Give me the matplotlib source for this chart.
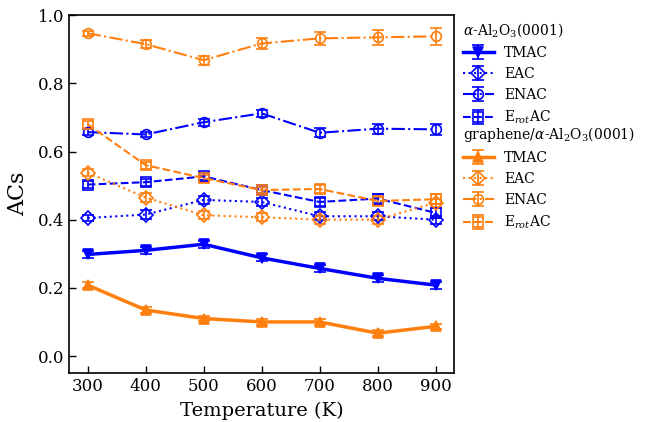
import matplotlib
matplotlib.use('Agg')
import matplotlib.pyplot as plt

plt.rcParams['font.family'] = 'DejaVu Serif'
plt.rcParams['mathtext.fontset'] = 'dejavuserif'

# temperaturas
T = [300, 400, 500, 600, 700, 800, 900]

# alpha-Al2O3(0001)
al_tmac = [0.298, 0.310, 0.328, 0.288, 0.257, 0.228, 0.208]
al_tmac_err = [0.010, 0.010, 0.010, 0.010, 0.010, 0.010, 0.010]
al_eac = [0.405, 0.415, 0.458, 0.452, 0.410, 0.410, 0.400]
al_eac_err = [0.010, 0.012, 0.012, 0.012, 0.012, 0.012, 0.012]
al_enac = [0.657, 0.650, 0.686, 0.712, 0.655, 0.667, 0.665]
al_enac_err = [0.010, 0.008, 0.010, 0.010, 0.013, 0.015, 0.017]
al_erot = [0.503, 0.510, 0.527, 0.487, 0.452, 0.462, 0.420]
al_erot_err = [0.010, 0.010, 0.010, 0.010, 0.012, 0.012, 0.015]

# graphene/alpha-Al2O3(0001)
gr_tmac = [0.208, 0.135, 0.110, 0.100, 0.100, 0.067, 0.087]
gr_tmac_err = [0.008, 0.008, 0.008, 0.008, 0.008, 0.008, 0.008]
gr_eac = [0.538, 0.465, 0.413, 0.407, 0.400, 0.400, 0.450]
gr_eac_err = [0.010, 0.012, 0.012, 0.012, 0.012, 0.012, 0.012]
gr_enac = [0.947, 0.915, 0.868, 0.917, 0.932, 0.935, 0.938]
gr_enac_err = [0.008, 0.012, 0.013, 0.016, 0.018, 0.022, 0.025]
gr_erot = [0.680, 0.560, 0.522, 0.487, 0.490, 0.455, 0.460]
gr_erot_err = [0.010, 0.010, 0.010, 0.010, 0.012, 0.012, 0.015]

labels = ['TMAC', 'EAC', 'ENAC', r'E$_{rot}$AC']

fig = plt.figure(figsize=(6.46, 4.22), dpi=100)
ax = fig.add_axes([0.107, 0.116, 0.596, 0.848])

def serie(y, err, color, ls, mk, lw, filled, label):
    return ax.errorbar(T, y, yerr=err, color=color, ls=ls, lw=lw, marker=mk,
                       ms=7, mfc=color if filled else 'none', mew=1.2,
                       capsize=4, elinewidth=1.2, capthick=1.2, label=label)

blue = '#0000ff'
orange = '#ff7f0e'

h1 = [serie(al_tmac, al_tmac_err, blue, '-', 'v', 2.5, True, labels[0]),
      serie(al_eac, al_eac_err, blue, ':', 'D', 1.5, False, labels[1]),
      serie(al_enac, al_enac_err, blue, '-.', 'o', 1.5, False, labels[2]),
      serie(al_erot, al_erot_err, blue, '--', 's', 1.5, False, labels[3])]
h2 = [serie(gr_tmac, gr_tmac_err, orange, '-', '^', 2.5, True, labels[0]),
      serie(gr_eac, gr_eac_err, orange, ':', 'D', 1.5, False, labels[1]),
      serie(gr_enac, gr_enac_err, orange, '-.', 'o', 1.5, False, labels[2]),
      serie(gr_erot, gr_erot_err, orange, '--', 's', 1.5, False, labels[3])]

ax.set_xlim(268, 932)
ax.set_ylim(-0.05, 1.0)
ax.set_xticks(T)
ax.set_yticks([0.0, 0.2, 0.4, 0.6, 0.8, 1.0])
ax.tick_params(labelsize=12, direction='in', length=5, width=1)
ax.set_xlabel('Temperature (K)', fontsize=14, labelpad=5)
ax.set_ylabel('ACs', fontsize=16, labelpad=6)
for s in ax.spines.values():
    s.set_linewidth(1.2)

opts = dict(loc='upper left', bbox_transform=fig.transFigure, frameon=False,
            fontsize=10, title_fontsize=10, alignment='left', labelspacing=0.5,
            handlelength=2.2, handletextpad=0.75, borderpad=0, borderaxespad=0)
leg1 = ax.legend(handles=h1, title=r'$\alpha$-Al$_2$O$_3$(0001)',
                 bbox_to_anchor=(463 / 646, 1 - 21 / 422), **opts)
ax.add_artist(leg1)
ax.legend(handles=h2, title=r'graphene/$\alpha$-Al$_2$O$_3$(0001)',
          bbox_to_anchor=(463 / 646, 1 - 125 / 422), **opts)

plt.savefig('out.png', dpi=100)
